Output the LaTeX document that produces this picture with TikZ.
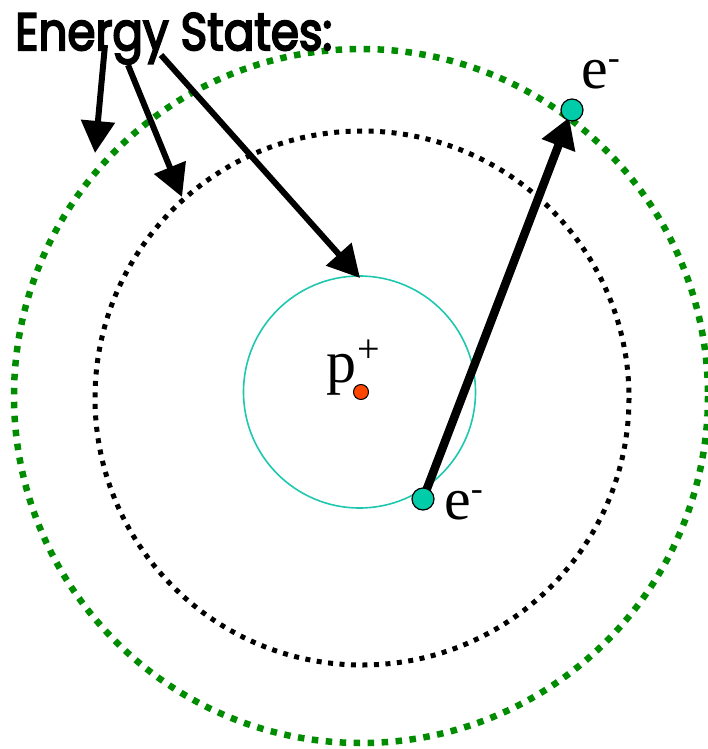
\documentclass[tikz,border=0pt]{standalone}
\usepackage{fontspec}
\setmainfont{Liberation Serif}
\newfontfamily\labelfont{Liberation Serif}
\newfontfamily\titlefont{Poppins}[FakeBold=4]
\usetikzlibrary{arrows.meta}
\definecolor{orbgreen}{RGB}{0,140,0}
\definecolor{elec}{RGB}{0,204,170}
\definecolor{cyanring}{RGB}{30,200,175}
\definecolor{proton}{RGB}{255,70,0}
\newcommand{\supmark}[2]{\raisebox{#2}{\fontsize{#1}{#1}\selectfont\labelfont}}
\newcommand{\supminus}{\raisebox{19pt}{\fontsize{36pt}{36pt}\selectfont -}}
\newcommand{\supplus}{\raisebox{20pt}{\fontsize{40pt}{40pt}\selectfont +}}
\tikzset{
  greenorbit/.style={draw=orbgreen, line width=6.5pt, dash pattern=on 6.5pt off 7.5pt},
  blackorbit/.style={draw=black, line width=5pt, dash pattern=on 5pt off 6.5pt},
  innerorbit/.style={draw=cyanring, line width=1.6pt},
  electron/.style={circle, draw=black, line width=1.2pt, fill=elec, minimum size=22pt, inner sep=0pt},
  protondot/.style={circle, draw=black, line width=1pt, fill=proton, minimum size=15pt, inner sep=0pt},
  bigarrow/.style={line width=6pt, -{Triangle[length=32pt,width=33pt]}},
  jumparrow/.style={line width=8.5pt, -{Triangle[length=30pt,width=34pt]}},
  lbl/.style={font=\labelfont\fontsize{60pt}{60pt}\selectfont, inner sep=0pt}
}
\begin{document}
\begin{tikzpicture}[x=1pt,y=-1pt]
\useasboundingbox (0,0) rectangle (708,749);
% orbits
\draw[greenorbit] (361,396) circle (347);
\draw[blackorbit] (362,398) circle (267);
\draw[innerorbit] (359.5,392) circle (116);
% proton
\node[protondot] (p) at (361,392) {};
\node[lbl, anchor=base west] (plabel) at (326,382) {p\kern1pt\supplus};
% title
\node[anchor=base west, inner sep=0pt] (title) at (15,50) {\resizebox{317pt}{37pt}{\titlefont Energy States:}};
\coordinate (s1) at (105,45);
\coordinate (s2) at (128,65);
\coordinate (s3) at (161,55);
\coordinate (t1) at (95,153);
\coordinate (t2) at (182,197);
\coordinate (t3) at (360,278);
\draw[bigarrow] (s1) -- (t1);
\draw[bigarrow] (s2) -- (t2);
\draw[bigarrow] (s3) -- (t3);
% electrons
\coordinate (e1pos) at (423,499);
\coordinate (e2pos) at (572,110);
\draw[jumparrow, shorten >=8pt] (e1pos) -- (e2pos);
\node[electron] (e1) at (e1pos) {};
\node[electron] (e2) at (e2pos) {};
\node[lbl, anchor=base west] (e1label) at (444,519) {e\supminus};
\node[lbl, anchor=base west] (e2label) at (581,89) {e\supminus};
\end{tikzpicture}
\end{document}
